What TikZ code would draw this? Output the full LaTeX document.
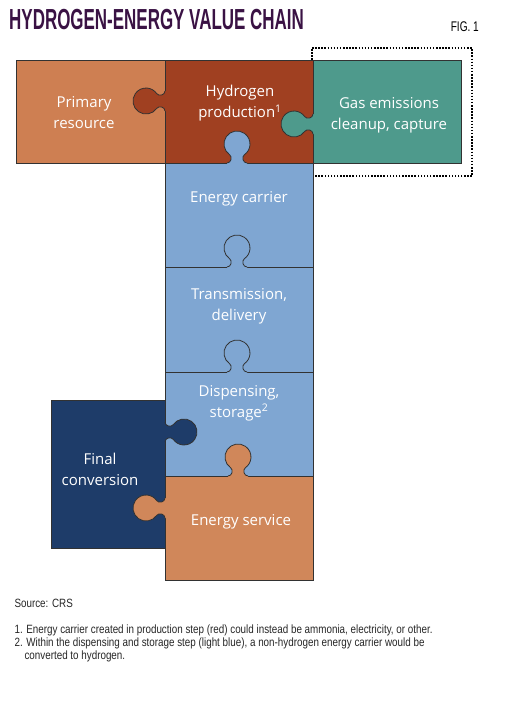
\documentclass[tikz,border=0pt]{standalone}
\usepackage{fontspec}
\setmainfont{Open Sans}
\newfontfamily\condfont[FakeStretch=0.82]{Liberation Sans}
\newfontfamily\figfont[FakeStretch=0.72]{Liberation Sans}
\newfontfamily\titlefont[FakeStretch=0.585]{Liberation Sans Bold}
\definecolor{prim}{RGB}{206,127,82}
\definecolor{hred}{RGB}{160,64,33}
\definecolor{teal}{RGB}{78,154,140}
\definecolor{lblue}{RGB}{127,166,210}
\definecolor{dblue}{RGB}{30,60,105}
\definecolor{serv}{RGB}{208,135,90}
\definecolor{edge}{RGB}{50,50,50}
\definecolor{titlec}{RGB}{58,18,68}
\tikzset{
  piece/.style={draw=edge,line width=0.8pt},
  lab/.style={text=white,font=\fontsize{15}{21}\selectfont,align=center},
  foot/.style={anchor=west,text=black!85,font=\condfont\fontsize{12}{13}\selectfont},
}
\newcommand\knobat[3]{%
  \begin{scope}[shift={#1},rotate=#2]
    \fill[#3] (-10,1.5) -- (-10,0) .. controls (-6,0) and (-4.18,-6.05) .. (-7.46,-8.35)
      arc[start angle=125,end angle=415,radius=13]
      .. controls (4.18,-6.05) and (6,0) .. (10,0) -- (10,1.5) -- cycle;
    \draw[edge,line width=0.8pt] (-10,0) .. controls (-6,0) and (-4.18,-6.05) .. (-7.46,-8.35)
      arc[start angle=125,end angle=415,radius=13]
      .. controls (4.18,-6.05) and (6,0) .. (10,0);
  \end{scope}}
\begin{document}
\begin{tikzpicture}[x=1pt,y=-1pt]
\useasboundingbox (0,0) rectangle (508,710);
% title
\node[anchor=west,text=titlec,font=\titlefont\fontsize{29}{30}\selectfont,inner sep=0] (title) at (9,19.5) {HYDROGEN-ENERGY VALUE CHAIN};
\node[anchor=east,text=black,font=\figfont\fontsize{14}{15}\selectfont,inner sep=0] (fig) at (479,27) {FIG. 1};
% dotted box
\draw[line width=1.5pt,dash pattern=on 1.5pt off 1.6pt] (312,48) -- (472,48) -- (472,176) -- (312,176) -- cycle;
% pieces
\filldraw[piece,fill=prim] (16,60) rectangle (165,163);
\filldraw[piece,fill=hred] (165,60) rectangle (313,163);
\filldraw[piece,fill=teal] (313,60) rectangle (461,163);
\filldraw[piece,fill=lblue] (165,163) rectangle (313,267);
\filldraw[piece,fill=lblue] (165,267) rectangle (313,372);
\filldraw[piece,fill=lblue] (165,372) rectangle (313,476);
\filldraw[piece,fill=dblue] (51,400) rectangle (165,548);
\filldraw[piece,fill=serv] (165,476) rectangle (313,580);
% knobs
\knobat{(165,101)}{90}{hred}
\knobat{(313,124)}{90}{teal}
\knobat{(237,163)}{0}{lblue}
\knobat{(237,267)}{0}{lblue}
\knobat{(237,372)}{0}{lblue}
\knobat{(165,432)}{-90}{dblue}
\knobat{(238,476)}{0}{serv}
\knobat{(165,508)}{90}{serv}
% labels
\node[lab] (l1) at (84,113) {Primary\\resource};
\node[lab] (l2) at (240,103) {Hydrogen\\production\textsuperscript{1}};
\node[lab] (l3) at (389,115) {Gas emissions\\cleanup, capture};
\node[lab] (l4) at (239,199) {Energy carrier};
\node[lab] (l5) at (239,306) {Transmission,\\delivery};
\node[lab] (l6) at (239,403) {Dispensing,\\storage\textsuperscript{2}};
\node[lab] (l7) at (100,469) {Final\\conversion};
\node[lab] (l8) at (241,522) {Energy service};
% footnotes
\node[foot] (s) at (11,603) {Source: CRS};
\node[foot] (f1) at (11,630.5) {1. Energy carrier created in production step (red) could instead be ammonia, electricity, or other.};
\node[foot] (f2) at (11,643.5) {2. Within the dispensing and storage step (light blue), a non-hydrogen energy carrier would be};
\node[foot] (f3) at (21,656.5) {converted to hydrogen.};
\end{tikzpicture}
\end{document}
